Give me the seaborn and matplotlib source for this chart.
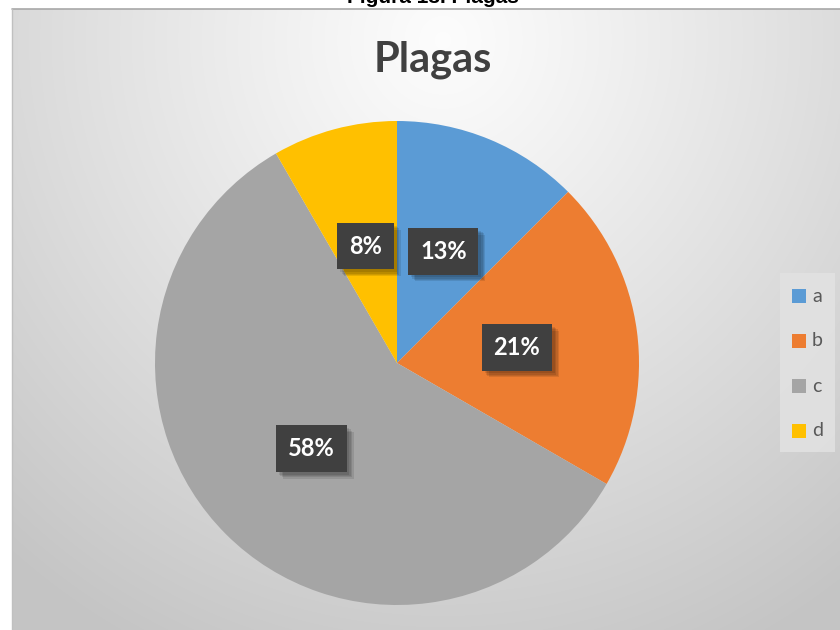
import numpy as np
import matplotlib
matplotlib.use("Agg")
import matplotlib.pyplot as plt
import matplotlib.patheffects as pe
import seaborn as sns

# Data: pest counts per category
categories = ["a", "b", "c", "d"]
counts = [3, 5, 14, 2]
slice_colors = ["#5B9BD5", "#ED7D31", "#A5A5A5", "#FFC000"]
chart_title = "Plagas"
figure_caption = "Figura 13. Plagas"

sns.set_theme(style="white")
plt.rcParams["font.family"] = ["Lato", "DejaVu Sans"]

W, H = 840, 630
fig = plt.figure(figsize=(W / 100, H / 100), dpi=100)
fig.patch.set_facecolor("white")

# Chart area background: radial gradient, light near top centre, grey at edges
x0, y0 = 12, 9  # chart area offset from left / top (pixels)
bg = fig.add_axes([x0 / W, 0, 1 - x0 / W, 1 - y0 / H])
bg.set_axis_off()
gw, gh = W - x0, H - y0
yy, xx = np.mgrid[0:gh, 0:gw]
cx, cy = gw * 0.52, gh * 0.05
d = np.sqrt(((xx - cx) / (gw * 0.8)) ** 2 + ((yy - cy) / (gh * 1.1)) ** 2)
d = np.clip(d, 0, 1)
shade = 0.99 - (0.99 - 0.77) * d ** 1.1
bg.imshow(np.dstack([shade] * 3), extent=[0, gw, gh, 0], aspect="auto",
          interpolation="bilinear")
bg.set_xlim(0, gw)
bg.set_ylim(gh, 0)

# Border lines of the chart area
fig.add_artist(plt.Line2D([x0 / W, 1], [1 - 8.5 / H, 1 - 8.5 / H],
                          color="#a8a8a8", lw=1.2, transform=fig.transFigure))
fig.add_artist(plt.Line2D([x0 / W, x0 / W], [0, 1 - 8.5 / H],
                          color="#c0c0c0", lw=1.0, transform=fig.transFigure))

# Caption above the chart area (its top runs past the figure edge)
fig.text(433 / W, 1 - 3 / H, figure_caption, ha="center", va="baseline",
         fontsize=15, fontweight="bold", color="black",
         family=["Liberation Sans", "DejaVu Sans"])

# Title
fig.text(433 / W, 1 - 60 / H, chart_title, ha="center", va="center",
         fontsize=30, fontweight="bold", color="#404040")


def pct_label(p):
    # round halves upward so 12.5 reads as 13
    return f"{int(np.floor(p + 0.5))}%"


# Pie
cxp, cyp, r = 397, 363, 242
ax = fig.add_axes([(cxp - r) / W, (H - cyp - r) / H, 2 * r / W, 2 * r / H])
palette = sns.color_palette(slice_colors)
wedges, texts, autotexts = ax.pie(
    counts, colors=palette, startangle=90, counterclock=False,
    autopct=pct_label, pctdistance=0.5, radius=1.0,
    wedgeprops=dict(linewidth=0),
    textprops=dict(color="white", fontsize=17, fontweight="bold"))
ax.set_xlim(-1, 1)
ax.set_ylim(-1, 1)
ax.set_aspect("equal")
ax.set_axis_off()

soft_shadow = [pe.withSimplePatchShadow(offset=(k, -k), shadow_rgbFace="black",
                                        alpha=0.10) for k in (5, 4, 3, 2)]
for t in autotexts:
    t.set_bbox(dict(boxstyle="square,pad=0.5", fc="#404040", ec="none"))
    t.get_bbox_patch().set_path_effects(soft_shadow + [pe.Normal()])

# Legend
leg_ax = fig.add_axes([780 / W, (H - 452) / H, 55 / W, 179 / H])
leg_ax.set_xlim(0, 55)
leg_ax.set_ylim(179, 0)
leg_ax.set_axis_off()
leg_ax.add_patch(plt.Rectangle((0, 0), 55, 179, fc="#e2e2e2", ec="none",
                               alpha=0.85))
for i, (lab, col) in enumerate(zip(categories, palette)):
    yc = 23 + i * 45
    leg_ax.add_patch(plt.Rectangle((12, yc - 7), 14, 14, fc=col, ec="none"))
    leg_ax.text(32, yc, lab, ha="left", va="center", fontsize=14,
                color="#595959")

fig.savefig("out.png", dpi=100)
